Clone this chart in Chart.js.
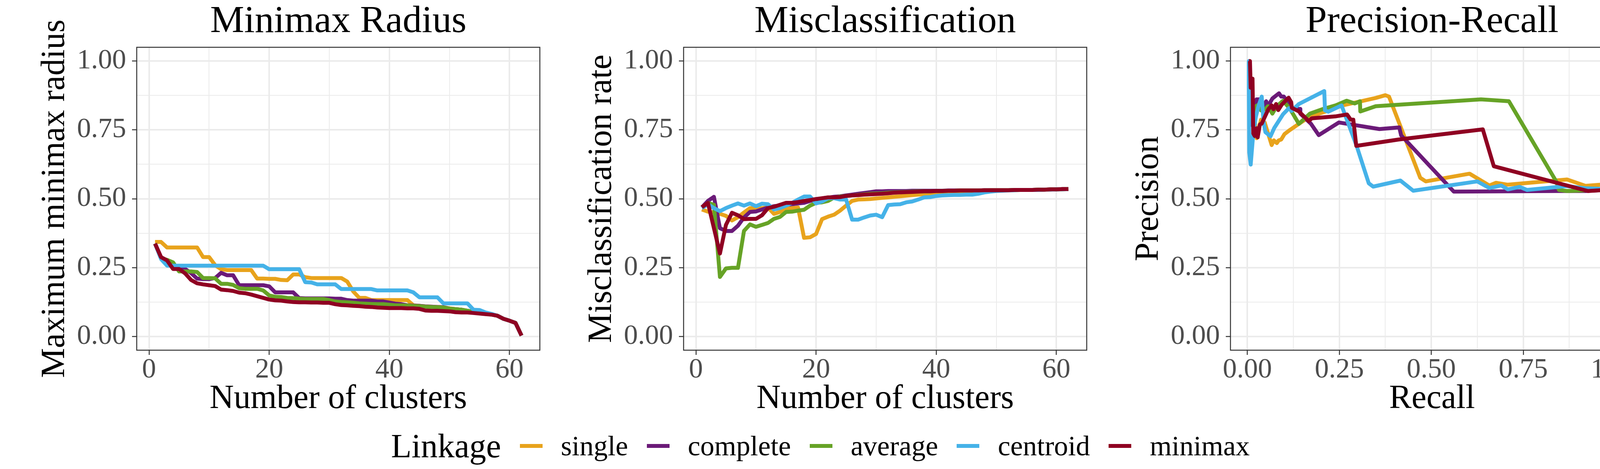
<!DOCTYPE html>
<html>
<head>
<meta charset="utf-8">
<script src="https://cdn.jsdelivr.net/npm/chart.js@4.4.1/dist/chart.umd.min.js"></script>
<style>
  body { margin: 0; background: #fff; width: 4200px; height: 1200px; position: relative; overflow: hidden; }
  canvas { position: absolute; top: 0; }
  #legend { position: absolute; left: 1001px; top: 1141px; transform: translateY(-50%); display: flex; align-items: center;
            font-family: 'Liberation Serif', serif; color: #000; white-space: nowrap; }
  #legend .ltitle { font-size: 86px; line-height: 1; }
  #legend .key { width: 58px; height: 10px; margin-left: 48px; }
  #legend .label { font-size: 72px; line-height: 1; margin-left: 47px; }
</style>
</head>
<body>
<canvas id="radius-chart" width="1400" height="1080" style="left:0px"></canvas>
<canvas id="miss-chart" width="1400" height="1080" style="left:1400px"></canvas>
<canvas id="pr-chart" width="1400" height="1080" style="left:2800px"></canvas>
<div id="legend"></div>
<script>
const serif = "'Liberation Serif', 'Times New Roman', serif";

const linkages = ['single', 'complete', 'average', 'centroid', 'minimax'];
const linkageColors = ['#E8A31C', '#6B1A78', '#66A326', '#45B2E8', '#8F0022'];

const clusters = [1, 2, 3, 4, 5, 6, 7, 8, 9, 10, 11, 12, 13, 14, 15, 16, 17, 18, 19, 20,
  21, 22, 23, 24, 25, 26, 27, 28, 29, 30, 31, 32, 33, 34, 35, 36, 37, 38, 39, 40,
  41, 42, 43, 44, 45, 46, 47, 48, 49, 50, 51, 52, 53, 54, 55, 56, 57, 58, 59, 60, 61, 62];

// maximum minimax radius per number of clusters
const radiusSingle = [0.343, 0.343, 0.323, 0.323, 0.323, 0.323, 0.323, 0.323, 0.288, 0.288,
  0.259, 0.244, 0.241, 0.241, 0.241, 0.241, 0.241, 0.210, 0.210, 0.209,
  0.209, 0.205, 0.204, 0.225, 0.225, 0.215, 0.212, 0.212, 0.212, 0.212,
  0.212, 0.212, 0.199, 0.163, 0.140, 0.140, 0.132, 0.132, 0.132, 0.132,
  0.132, 0.132, 0.132, 0.113, 0.111, 0.109, 0.108, 0.107, 0.106, 0.102,
  0.099, 0.097, 0.093, 0.090, 0.086, 0.083, 0.080, 0.075, 0.064, 0.057,
  0.049, 0.003];
const radiusComplete = [0.337, 0.287, 0.275, 0.250, 0.248, 0.245, 0.230, 0.210, 0.208, 0.208,
  0.212, 0.231, 0.222, 0.222, 0.186, 0.186, 0.186, 0.186, 0.186, 0.182,
  0.160, 0.160, 0.160, 0.160, 0.139, 0.138, 0.138, 0.138, 0.138, 0.138,
  0.137, 0.137, 0.132, 0.130, 0.130, 0.130, 0.130, 0.127, 0.127, 0.123,
  0.119, 0.117, 0.113, 0.112, 0.111, 0.109, 0.108, 0.107, 0.106, 0.101,
  0.099, 0.097, 0.093, 0.090, 0.085, 0.082, 0.080, 0.075, 0.064, 0.057,
  0.049, 0.003];
const radiusAverage = [0.337, 0.285, 0.278, 0.269, 0.236, 0.236, 0.236, 0.234, 0.212, 0.212,
  0.211, 0.191, 0.191, 0.187, 0.175, 0.173, 0.173, 0.173, 0.167, 0.149,
  0.144, 0.143, 0.140, 0.139, 0.137, 0.136, 0.136, 0.136, 0.136, 0.132,
  0.127, 0.125, 0.124, 0.122, 0.120, 0.119, 0.118, 0.117, 0.117, 0.115,
  0.113, 0.113, 0.112, 0.111, 0.110, 0.108, 0.107, 0.106, 0.105, 0.101,
  0.099, 0.097, 0.093, 0.090, 0.084, 0.082, 0.080, 0.075, 0.064, 0.057,
  0.049, 0.003];
const radiusCentroid = [0.337, 0.281, 0.257, 0.257, 0.257, 0.257, 0.257, 0.257, 0.257, 0.257,
  0.257, 0.257, 0.257, 0.257, 0.257, 0.257, 0.257, 0.257, 0.257, 0.244,
  0.244, 0.244, 0.244, 0.244, 0.244, 0.197, 0.196, 0.189, 0.189, 0.189,
  0.189, 0.172, 0.172, 0.172, 0.172, 0.172, 0.172, 0.167, 0.167, 0.167,
  0.167, 0.167, 0.167, 0.160, 0.142, 0.142, 0.142, 0.142, 0.120, 0.120,
  0.120, 0.120, 0.120, 0.097, 0.096, 0.087, 0.082, 0.075, 0.064, 0.057,
  0.049, 0.003];
const radiusMinimax = [0.337, 0.288, 0.276, 0.245, 0.245, 0.229, 0.205, 0.193, 0.189, 0.186,
  0.183, 0.170, 0.168, 0.165, 0.159, 0.157, 0.152, 0.146, 0.140, 0.134,
  0.131, 0.130, 0.127, 0.125, 0.124, 0.124, 0.123, 0.123, 0.122, 0.122,
  0.117, 0.114, 0.113, 0.111, 0.110, 0.108, 0.107, 0.105, 0.104, 0.103,
  0.103, 0.103, 0.102, 0.102, 0.100, 0.094, 0.093, 0.093, 0.092, 0.091,
  0.088, 0.087, 0.087, 0.085, 0.083, 0.081, 0.079, 0.075, 0.064, 0.057,
  0.049, 0.003];

// misclassification rate per number of clusters
const missSingle = [0.461, 0.453, 0.450, 0.445, 0.438, 0.421, 0.433, 0.450, 0.466, 0.466,
  0.466, 0.468, 0.445, 0.452, 0.464, 0.466, 0.468, 0.358, 0.360, 0.372,
  0.426, 0.435, 0.442, 0.457, 0.475, 0.492, 0.497, 0.498, 0.499, 0.501,
  0.503, 0.505, 0.507, 0.509, 0.511, 0.513, 0.515, 0.517, 0.519, 0.521,
  0.523, 0.525, 0.526, 0.527, 0.528, 0.529, 0.530, 0.530, 0.531, 0.531,
  0.531, 0.531, 0.531, 0.532, 0.532, 0.532, 0.532, 0.533, 0.533, 0.534,
  0.534, 0.535];
const missComplete = [0.469, 0.492, 0.507, 0.393, 0.383, 0.383, 0.402, 0.432, 0.452, 0.454,
  0.461, 0.468, 0.473, 0.475, 0.478, 0.480, 0.483, 0.485, 0.492, 0.497,
  0.501, 0.504, 0.507, 0.509, 0.512, 0.515, 0.518, 0.521, 0.524, 0.527,
  0.527, 0.528, 0.528, 0.528, 0.528, 0.529, 0.529, 0.529, 0.529, 0.529,
  0.529, 0.530, 0.530, 0.530, 0.530, 0.530, 0.530, 0.531, 0.531, 0.531,
  0.531, 0.531, 0.532, 0.532, 0.532, 0.532, 0.533, 0.533, 0.534, 0.534,
  0.535, 0.535];
const missAverage = [0.469, 0.485, 0.478, 0.216, 0.247, 0.249, 0.249, 0.383, 0.407, 0.398,
  0.405, 0.412, 0.427, 0.434, 0.452, 0.453, 0.457, 0.460, 0.475, 0.485,
  0.487, 0.492, 0.504, 0.508, 0.510, 0.512, 0.514, 0.516, 0.518, 0.519,
  0.520, 0.522, 0.523, 0.524, 0.525, 0.526, 0.527, 0.527, 0.527, 0.528,
  0.528, 0.529, 0.529, 0.530, 0.530, 0.530, 0.530, 0.531, 0.531, 0.531,
  0.531, 0.531, 0.532, 0.532, 0.532, 0.532, 0.533, 0.533, 0.534, 0.534,
  0.535, 0.535];
const missCentroid = [0.466, 0.480, 0.466, 0.455, 0.466, 0.475, 0.483, 0.475, 0.483, 0.473,
  0.482, 0.480, 0.461, 0.466, 0.475, 0.485, 0.497, 0.508, 0.508, 0.483,
  0.490, 0.502, 0.502, 0.497, 0.497, 0.424, 0.424, 0.432, 0.439, 0.442,
  0.433, 0.477, 0.479, 0.480, 0.487, 0.490, 0.497, 0.505, 0.506, 0.510,
  0.512, 0.513, 0.514, 0.514, 0.515, 0.515, 0.518, 0.523, 0.526, 0.528,
  0.529, 0.530, 0.531, 0.532, 0.532, 0.532, 0.532, 0.533, 0.533, 0.534,
  0.534, 0.535];
const missMinimax = [0.469, 0.485, 0.393, 0.301, 0.405, 0.449, 0.440, 0.426, 0.427, 0.427,
  0.440, 0.466, 0.471, 0.478, 0.485, 0.485, 0.488, 0.492, 0.495, 0.499,
  0.502, 0.505, 0.505, 0.506, 0.510, 0.512, 0.513, 0.515, 0.516, 0.517,
  0.518, 0.520, 0.522, 0.523, 0.524, 0.525, 0.526, 0.527, 0.527, 0.528,
  0.528, 0.529, 0.529, 0.530, 0.530, 0.530, 0.530, 0.531, 0.531, 0.531,
  0.531, 0.531, 0.532, 0.532, 0.532, 0.532, 0.533, 0.533, 0.534, 0.534,
  0.535, 0.535];

// precision-recall paths
const recallSingle = [0.004, 0.025, 0.037, 0.047, 0.066, 0.072, 0.080, 0.085, 0.092, 0.101,
  0.116, 0.140, 0.168, 0.211, 0.259, 0.349, 0.375, 0.385, 0.470, 0.485,
  0.604, 0.658, 0.676, 0.708, 0.869, 0.919, 0.961, 1.000];
const precisionSingle = [1.000, 0.720, 0.787, 0.777, 0.695, 0.712, 0.702, 0.712, 0.715, 0.735,
  0.750, 0.772, 0.797, 0.816, 0.839, 0.866, 0.876, 0.871, 0.576, 0.563,
  0.591, 0.548, 0.558, 0.551, 0.570, 0.547, 0.551, 0.536];
const recallComplete = [0.004, 0.013, 0.025, 0.032, 0.042, 0.051, 0.056, 0.068, 0.086, 0.092,
  0.099, 0.113, 0.123, 0.144, 0.144, 0.173, 0.194, 0.249, 0.359, 0.413,
  0.418, 0.561, 0.840, 0.920, 1.000];
const precisionComplete = [1.000, 0.767, 0.861, 0.861, 0.816, 0.854, 0.836, 0.864, 0.883, 0.871,
  0.871, 0.844, 0.826, 0.826, 0.809, 0.772, 0.731, 0.777, 0.753, 0.759,
  0.730, 0.526, 0.528, 0.528, 0.534];
const recallAverage = [0.004, 0.016, 0.023, 0.030, 0.037, 0.049, 0.056, 0.068, 0.080, 0.097,
  0.116, 0.140, 0.170, 0.206, 0.240, 0.270, 0.292, 0.306, 0.307, 0.349,
  0.635, 0.711, 0.840, 0.847, 0.869, 1.000];
const precisionAverage = [1.000, 0.767, 0.836, 0.841, 0.821, 0.826, 0.836, 0.809, 0.836, 0.856,
  0.826, 0.772, 0.809, 0.826, 0.839, 0.856, 0.846, 0.854, 0.817, 0.836,
  0.861, 0.854, 0.562, 0.532, 0.528, 0.534];
const recallCentroid = [0.004, 0.004, 0.005, 0.009, 0.016, 0.023, 0.030, 0.039, 0.044, 0.049,
  0.063, 0.073, 0.097, 0.113, 0.120, 0.140, 0.209, 0.211, 0.220, 0.256,
  0.297, 0.330, 0.342, 0.416, 0.451, 0.625, 0.658, 0.690, 0.708, 0.740,
  0.760, 0.869, 0.919, 1.000];
const precisionCentroid = [1.000, 0.901, 0.668, 0.624, 0.737, 0.797, 0.836, 0.871, 0.777, 0.742,
  0.727, 0.757, 0.807, 0.829, 0.819, 0.844, 0.891, 0.821, 0.816, 0.839,
  0.692, 0.556, 0.544, 0.566, 0.529, 0.563, 0.539, 0.548, 0.534, 0.543,
  0.532, 0.546, 0.538, 0.534];
const recallMinimax = [0.004, 0.007, 0.009, 0.014, 0.016, 0.020, 0.025, 0.028, 0.034, 0.039,
  0.048, 0.057, 0.066, 0.071, 0.078, 0.084, 0.093, 0.112, 0.119, 0.121,
  0.139, 0.167, 0.175, 0.239, 0.271, 0.281, 0.288, 0.296, 0.411, 0.640,
  0.670, 0.926, 1.000];
const precisionMinimax = [1.000, 1.000, 0.903, 0.936, 0.737, 0.728, 0.756, 0.723, 0.770, 0.773,
  0.799, 0.825, 0.839, 0.825, 0.844, 0.822, 0.841, 0.867, 0.851, 0.830,
  0.818, 0.782, 0.792, 0.799, 0.806, 0.787, 0.787, 0.692, 0.715, 0.752,
  0.618, 0.528, 0.534];

const yTicks = [0, 0.125, 0.25, 0.375, 0.5, 0.625, 0.75, 0.875, 1];
const yMajor = [0, 0.25, 0.5, 0.75, 1];
const clusterTicks = [0, 10, 20, 30, 40, 50, 60];
const clusterMajor = [0, 20, 40, 60];
const recallTicks = [0, 0.125, 0.25, 0.375, 0.5, 0.625, 0.75, 0.875, 1];
const recallMajor = [0, 0.25, 0.5, 0.75, 1];

function pairs(xs, ys) {
  return xs.map((x, i) => ({ x: x, y: ys[i] }));
}

function axisOptions(min, max, tickValues, majorValues, digits, title, isX) {
  const isMajor = v => majorValues.some(m => Math.abs(m - v) < 1e-9);
  return {
    type: 'linear',
    min: min,
    max: max,
    afterBuildTicks: scale => { scale.ticks = tickValues.map(v => ({ value: v })); },
    afterFit: scale => {
      if (isX) {
        scale.height = 184;
        scale.paddingLeft = 0;
        scale.paddingRight = 0;
      } else {
        scale.width = 350;
        scale.paddingTop = 0;
        scale.paddingBottom = 0;
      }
    },
    grid: {
      color: '#EBEBEB',
      lineWidth: ctx => (ctx.tick && isMajor(ctx.tick.value)) ? 4 : 2,
      drawTicks: true,
      tickLength: 12,
      tickWidth: 2.5,
      tickColor: ctx => (ctx.tick && isMajor(ctx.tick.value)) ? '#333333' : 'rgba(0,0,0,0)'
    },
    border: { display: false },
    ticks: {
      autoSkip: false,
      maxRotation: 0,
      minRotation: 0,
      padding: isX ? 3 : 15,
      color: '#4D4D4D',
      font: { family: serif, size: 72, lineHeight: 1 },
      callback: v => isMajor(v) ? v.toFixed(digits) : ''
    },
    title: {
      display: true,
      text: title,
      color: '#000000',
      font: { family: serif, size: 86, lineHeight: 1 },
      padding: isX ? { top: 0, bottom: 16 } : { top: 98, bottom: 0 }
    }
  };
}

const panelBorder = {
  id: 'panelBorder',
  afterDatasetsDraw(chart) {
    const { ctx, chartArea } = chart;
    ctx.save();
    ctx.strokeStyle = '#333333';
    ctx.lineWidth = 2.5;
    ctx.strokeRect(chartArea.left, chartArea.top, chartArea.right - chartArea.left, chartArea.bottom - chartArea.top);
    ctx.restore();
  }
};

function makeDatasets(seriesList) {
  return seriesList.map((points, i) => ({
    label: linkages[i],
    data: points,
    borderColor: linkageColors[i],
    backgroundColor: linkageColors[i],
    borderWidth: 10,
    borderJoinStyle: 'round',
    pointRadius: 0,
    tension: 0,
    fill: false,
    order: linkages.length - 1 - i
  }));
}

function makeChart(id, title, seriesList, xAxis, yAxis) {
  return new Chart(document.getElementById(id), {
    type: 'line',
    data: { datasets: makeDatasets(seriesList) },
    options: {
      responsive: false,
      animation: false,
      devicePixelRatio: 1,
      layout: { padding: { left: 0, right: 18, top: 0, bottom: 0 } },
      plugins: {
        legend: { display: false },
        tooltip: { enabled: false },
        title: {
          display: true,
          text: title,
          fullSize: false,
          color: '#000000',
          font: { family: serif, size: 98, weight: 'normal', lineHeight: 1 },
          padding: { top: 7, bottom: 16 }
        }
      },
      scales: { x: xAxis, y: yAxis }
    },
    plugins: [panelBorder]
  });
}

makeChart('radius-chart', 'Minimax Radius',
  [radiusSingle, radiusComplete, radiusAverage, radiusCentroid, radiusMinimax].map(s => pairs(clusters, s)),
  axisOptions(-2.05, 65.05, clusterTicks, clusterMajor, 0, 'Number of clusters', true),
  axisOptions(-0.05, 1.05, yTicks, yMajor, 2, 'Maximum minimax radius', false));

makeChart('miss-chart', 'Misclassification',
  [missSingle, missComplete, missAverage, missCentroid, missMinimax].map(s => pairs(clusters, s)),
  axisOptions(-2.05, 65.05, clusterTicks, clusterMajor, 0, 'Number of clusters', true),
  axisOptions(-0.05, 1.05, yTicks, yMajor, 2, 'Misclassification rate', false));

makeChart('pr-chart', 'Precision-Recall',
  [pairs(recallSingle, precisionSingle), pairs(recallComplete, precisionComplete),
   pairs(recallAverage, precisionAverage), pairs(recallCentroid, precisionCentroid),
   pairs(recallMinimax, precisionMinimax)],
  axisOptions(-0.046, 1.05, recallTicks, recallMajor, 2, 'Recall', true),
  axisOptions(-0.05, 1.05, yTicks, yMajor, 2, 'Precision', false));

// shared legend
const legend = document.getElementById('legend');
legend.innerHTML = '<span class="ltitle">Linkage</span>' + linkages.map((name, i) =>
  `<span class="key" style="background:${linkageColors[i]}"></span><span class="label">${name}</span>`).join('');
</script>
</body>
</html>
